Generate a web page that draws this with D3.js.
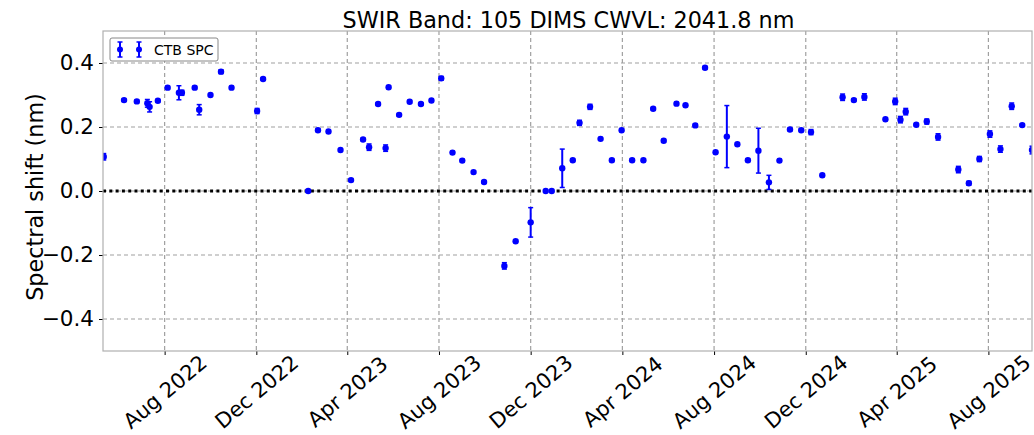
<!DOCTYPE html>
<html>
<head>
<meta charset="utf-8">
<script src="https://cdn.jsdelivr.net/npm/d3@7"></script>
<style>
  body { margin: 0; background: #fff; }
  svg { font-family: "DejaVu Sans", sans-serif; }
</style>
</head>
<body>
<svg width="1034" height="435"></svg>
<script>
const dates = [
  "2022-05-12","2022-06-08","2022-06-25","2022-07-09","2022-07-12","2022-07-23","2022-08-05","2022-08-20",
  "2022-08-24","2022-09-10","2022-09-16","2022-10-01","2022-10-15","2022-10-29","2022-12-02","2022-12-10",
  "2023-02-08","2023-02-21","2023-03-07","2023-03-23","2023-04-06","2023-04-22","2023-04-30","2023-05-12",
  "2023-05-22","2023-05-26","2023-06-09","2023-06-23","2023-07-08","2023-07-22","2023-08-04","2023-08-19",
  "2023-09-01","2023-09-16","2023-09-30","2023-10-27","2023-11-11","2023-12-01","2023-12-21","2023-12-29",
  "2024-01-12","2024-01-26","2024-02-04","2024-02-18","2024-03-03","2024-03-18","2024-03-31","2024-04-14",
  "2024-04-29","2024-05-12","2024-05-26","2024-06-12","2024-06-24","2024-07-07","2024-07-20","2024-08-03",
  "2024-08-18","2024-09-01","2024-09-15","2024-09-29","2024-10-13","2024-10-27","2024-11-10","2024-11-25",
  "2024-12-08","2024-12-23",
  "2025-01-19","2025-02-03","2025-02-17","2025-03-17","2025-03-30","2025-04-06","2025-04-13","2025-04-27",
  "2025-05-11","2025-05-26","2025-06-22","2025-07-06","2025-07-20","2025-08-03","2025-08-17","2025-09-01",
  "2025-09-15","2025-09-28"
];

const shifts = [
  0.107, 0.284, 0.280, 0.274, 0.263, 0.282, 0.323, 0.307, 0.307, 0.323, 0.254, 0.300, 0.373, 0.323, 0.250, 0.350,
  0.000, 0.190, 0.186, 0.128, 0.034, 0.161, 0.137, 0.272, 0.134, 0.324, 0.238, 0.279, 0.272, 0.283, 0.352, 0.120,
  0.095, 0.059, 0.028, -0.234, -0.157, -0.098, 0.000, 0.000,
  0.071, 0.096, 0.213, 0.263, 0.163, 0.096, 0.190, 0.096, 0.096, 0.257, 0.157, 0.273, 0.268, 0.205, 0.385, 0.121,
  0.170, 0.146, 0.096, 0.126, 0.027, 0.095, 0.192, 0.190, 0.184, 0.049,
  0.293, 0.284, 0.294, 0.224, 0.280, 0.223, 0.248, 0.207, 0.217, 0.169, 0.067, 0.024, 0.100, 0.178, 0.131, 0.265,
  0.206, 0.128
];

const errors = [
  0.010, 0.004, 0.004, 0.012, 0.016, 0.004, 0.004, 0.022, 0.008, 0.004, 0.016, 0.004, 0.006, 0.004, 0.008, 0.004,
  0.003, 0.004, 0.004, 0.004, 0.004, 0.004, 0.010, 0.004, 0.010, 0.004, 0.004, 0.004, 0.004, 0.004, 0.006, 0.004,
  0.004, 0.004, 0.004, 0.010, 0.004, 0.046, 0.003, 0.003,
  0.060, 0.004, 0.008, 0.008, 0.004, 0.004, 0.004, 0.004, 0.004, 0.004, 0.004, 0.004, 0.004, 0.004, 0.004, 0.004,
  0.097, 0.004, 0.004, 0.070, 0.022, 0.004, 0.004, 0.004, 0.008, 0.004,
  0.010, 0.004, 0.010, 0.004, 0.010, 0.010, 0.010, 0.004, 0.008, 0.010, 0.010, 0.006, 0.008, 0.010, 0.010, 0.010,
  0.004, 0.012
];

const xTicks = ["2022-08-01","2022-12-01","2023-04-01","2023-08-01","2023-12-01",
                "2024-04-01","2024-08-01","2024-12-01","2025-04-01","2025-08-01"];
const yTicks = [-0.4, -0.2, 0.0, 0.2, 0.4];

const parse = d3.utcParse("%Y-%m-%d");
const data = dates.map((d, i) => ({ date: parse(d), v: shifts[i], e: errors[i] }));

const svg = d3.select('svg');
const mLeft = 103, mRight = 1032, mTop = 31, mBottom = 351;

const x = d3.scaleUtc()
  .domain([parse("2022-05-11"), parse("2025-09-28")])
  .range([mLeft, mRight]);

const y = d3.scaleLinear()
  .domain([-0.5, 0.5])
  .range([mBottom, mTop]);

const blue = '#0000ff';

svg.append('defs').append('clipPath').attr('id', 'clip')
  .append('rect')
  .attr('x', mLeft).attr('y', mTop)
  .attr('width', mRight - mLeft).attr('height', mBottom - mTop);

// grid
const grid = svg.append('g');
grid.selectAll('.gx')
  .data(xTicks.map(parse))
  .enter().append('line')
  .attr('x1', d => x(d)).attr('x2', d => x(d))
  .attr('y1', mTop).attr('y2', mBottom)
  .attr('stroke', '#a0a0a0').attr('stroke-width', 1.2)
  .attr('stroke-dasharray', '4,3');
grid.selectAll('.gy')
  .data(yTicks)
  .enter().append('line')
  .attr('x1', mLeft).attr('x2', mRight)
  .attr('y1', d => y(d)).attr('y2', d => y(d))
  .attr('stroke', '#a0a0a0').attr('stroke-width', 1.2)
  .attr('stroke-dasharray', '4,3');

// zero line
svg.append('line')
  .attr('x1', mLeft).attr('x2', mRight)
  .attr('y1', y(0)).attr('y2', y(0))
  .attr('stroke', '#000').attr('stroke-width', 3)
  .attr('stroke-dasharray', '3,3.3');

// points with error bars
const plot = svg.append('g').attr('clip-path', 'url(#clip)');
const pts = plot.selectAll('g.pt')
  .data(data)
  .enter().append('g');

pts.append('line')
  .attr('x1', d => x(d.date)).attr('x2', d => x(d.date))
  .attr('y1', d => y(d.v - d.e)).attr('y2', d => y(d.v + d.e))
  .attr('stroke', blue).attr('stroke-width', 2);
pts.append('line')
  .attr('x1', d => x(d.date) - 2.5).attr('x2', d => x(d.date) + 2.5)
  .attr('y1', d => y(d.v + d.e)).attr('y2', d => y(d.v + d.e))
  .attr('stroke', blue).attr('stroke-width', 1.5);
pts.append('line')
  .attr('x1', d => x(d.date) - 2.5).attr('x2', d => x(d.date) + 2.5)
  .attr('y1', d => y(d.v - d.e)).attr('y2', d => y(d.v - d.e))
  .attr('stroke', blue).attr('stroke-width', 1.5);
pts.append('circle')
  .attr('cx', d => x(d.date)).attr('cy', d => y(d.v))
  .attr('r', 3.2).attr('fill', blue);

// axes
const yAxis = svg.append('g')
  .attr('transform', `translate(${mLeft},0)`)
  .call(d3.axisLeft(y).tickValues(yTicks).tickSize(4).tickPadding(5)
    .tickFormat(d => d3.format('.1f')(d).replace('-', '\u2212')));
yAxis.select('.domain').remove();
yAxis.selectAll('line').attr('stroke', '#000');
yAxis.selectAll('text').attr('font-size', 21.5).attr('fill', '#000')
  .attr('font-family', '"DejaVu Sans", sans-serif');

const xAxis = svg.append('g')
  .attr('transform', `translate(0,${mBottom})`)
  .call(d3.axisBottom(x).tickValues(xTicks.map(parse)).tickSize(4)
    .tickFormat(d3.utcFormat('%b %Y')));
xAxis.select('.domain').remove();
xAxis.selectAll('line').attr('stroke', '#000');
xAxis.selectAll('text')
  .attr('font-size', 21).attr('fill', '#000')
  .attr('font-family', '"DejaVu Sans", sans-serif')
  .attr('text-anchor', 'middle')
  .attr('dominant-baseline', 'central')
  .attr('y', 0).attr('dy', 0)
  .attr('transform', 'translate(0,41) rotate(-40)');

// frame
svg.append('rect')
  .attr('x', mLeft).attr('y', mTop)
  .attr('width', mRight - mLeft).attr('height', mBottom - mTop)
  .attr('fill', 'none').attr('stroke', '#b0b0b0').attr('stroke-width', 1.2);

// title and label
svg.append('text')
  .attr('x', (mLeft + mRight) / 2 + 1).attr('y', 28)
  .attr('text-anchor', 'middle').attr('font-size', 22.3)
  .text('SWIR Band: 105 DIMS CWVL: 2041.8 nm');

svg.append('text')
  .attr('transform', `translate(43,${(mTop + mBottom) / 2 + 6}) rotate(-90)`)
  .attr('text-anchor', 'middle').attr('font-size', 22.3)
  .text('Spectral shift (nm)');

// legend
const leg = svg.append('g');
leg.append('rect')
  .attr('x', 110).attr('y', 38).attr('width', 108).attr('height', 23)
  .attr('rx', 2).attr('fill', '#fff').attr('stroke', '#888').attr('stroke-width', 1);
[120, 139].forEach(cx => {
  leg.append('line').attr('x1', cx).attr('x2', cx).attr('y1', 42).attr('y2', 57)
    .attr('stroke', blue).attr('stroke-width', 2);
  leg.append('line').attr('x1', cx - 2.5).attr('x2', cx + 2.5).attr('y1', 42).attr('y2', 42)
    .attr('stroke', blue).attr('stroke-width', 1.5);
  leg.append('line').attr('x1', cx - 2.5).attr('x2', cx + 2.5).attr('y1', 57).attr('y2', 57)
    .attr('stroke', blue).attr('stroke-width', 1.5);
  leg.append('circle').attr('cx', cx).attr('cy', 49.5).attr('r', 3).attr('fill', blue);
});
leg.append('text')
  .attr('x', 154).attr('y', 55).attr('font-size', 14)
  .text('CTB SPC');
</script>
</body>
</html>
